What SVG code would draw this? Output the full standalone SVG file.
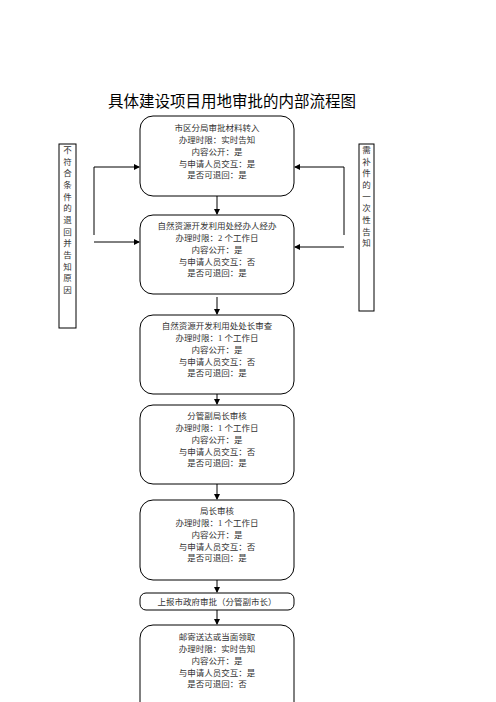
<svg xmlns="http://www.w3.org/2000/svg" width="496" height="702" viewBox="0 0 496 702">
<style>
.box{fill:#fff;stroke:#000;stroke-width:1}
.t{font-family:"Liberation Serif","Noto Sans CJK SC",serif;font-size:8.5px;fill:#333;text-anchor:middle}
.title{font-family:"Liberation Sans","Noto Sans CJK SC",sans-serif;font-size:15.5px;fill:#000;text-anchor:middle}
.c{stroke:#000;stroke-width:1;fill:none}
</style>
<defs>
<marker id="ah" markerWidth="6" markerHeight="6" refX="5" refY="3" orient="auto" markerUnits="userSpaceOnUse">
<path d="M0,0 L6,3 L0,6 z" fill="#000"/>
</marker>
</defs>
<rect width="496" height="702" fill="#fff"/>
<text class="title" x="232" y="107">具体建设项目用地审批的内部流程图</text>

<g id="n1"><rect class="box" x="140" y="116" width="154" height="80" rx="13"/>
<text class="t"><tspan x="217" y="131">市区分局审批材料转入</tspan><tspan x="217" y="143">办理时限：实时告知</tspan><tspan x="217" y="155">内容公开：是</tspan><tspan x="217" y="167">与申请人员交互：是</tspan><tspan x="217" y="178">是否可退回：是</tspan></text></g>

<g id="n2"><rect class="box" x="140" y="215" width="154" height="79" rx="13"/>
<text class="t"><tspan x="217" y="229">自然资源开发利用处经办人经办</tspan><tspan x="217" y="241">办理时限：2 个工作日</tspan><tspan x="217" y="253">内容公开：是</tspan><tspan x="217" y="265">与申请人员交互：否</tspan><tspan x="217" y="276">是否可退回：是</tspan></text></g>

<g id="n3"><rect class="box" x="140" y="315" width="154" height="79" rx="13"/>
<text class="t"><tspan x="217" y="329">自然资源开发利用处处长审查</tspan><tspan x="217" y="341">办理时限：1 个工作日</tspan><tspan x="217" y="353">内容公开：是</tspan><tspan x="217" y="365">与申请人员交互：否</tspan><tspan x="217" y="376">是否可退回：是</tspan></text></g>

<g id="n4"><rect class="box" x="140" y="405" width="154" height="79" rx="13"/>
<text class="t"><tspan x="217" y="419">分管副局长审核</tspan><tspan x="217" y="431">办理时限：1 个工作日</tspan><tspan x="217" y="443">内容公开：是</tspan><tspan x="217" y="455">与申请人员交互：否</tspan><tspan x="217" y="466">是否可退回：是</tspan></text></g>

<g id="n5"><rect class="box" x="140" y="500" width="154" height="80" rx="13"/>
<text class="t"><tspan x="217" y="514">局长审核</tspan><tspan x="217" y="526">办理时限：1 个工作日</tspan><tspan x="217" y="538">内容公开：是</tspan><tspan x="217" y="550">与申请人员交互：否</tspan><tspan x="217" y="561">是否可退回：是</tspan></text></g>

<g id="n6"><rect class="box" x="140" y="593" width="154" height="17" rx="6"/>
<text class="t" x="217" y="605">上报市政府审批（分管副市长）</text></g>

<g id="n7"><rect class="box" x="140" y="625" width="154" height="90" rx="13"/>
<text class="t"><tspan x="217" y="640">邮寄送达或当面领取</tspan><tspan x="217" y="652">办理时限：实时告知</tspan><tspan x="217" y="664">内容公开：是</tspan><tspan x="217" y="676">与申请人员交互：是</tspan><tspan x="217" y="687">是否可退回：否</tspan></text></g>

<g id="left"><rect class="box" x="59" y="144" width="17" height="184"/>
<text class="t"><tspan x="67.5" y="153">不</tspan><tspan x="67.5" y="165">符</tspan><tspan x="67.5" y="176">合</tspan><tspan x="67.5" y="188">条</tspan><tspan x="67.5" y="200">件</tspan><tspan x="67.5" y="211">的</tspan><tspan x="67.5" y="223">退</tspan><tspan x="67.5" y="235">回</tspan><tspan x="67.5" y="246">并</tspan><tspan x="67.5" y="258">告</tspan><tspan x="67.5" y="270">知</tspan><tspan x="67.5" y="281">原</tspan><tspan x="67.5" y="293">因</tspan></text></g>

<g id="right"><rect class="box" x="359" y="144" width="15" height="167"/>
<text class="t"><tspan x="366.5" y="153">需</tspan><tspan x="366.5" y="165">补</tspan><tspan x="366.5" y="176">件</tspan><tspan x="366.5" y="188">的</tspan><tspan x="366.5" y="200">一</tspan><tspan x="366.5" y="211">次</tspan><tspan x="366.5" y="223">性</tspan><tspan x="366.5" y="235">告</tspan><tspan x="366.5" y="246">知</tspan></text></g>

<g id="connectors">
<path class="c" d="M94,235 V167 H139" marker-end="url(#ah)"/>
<path class="c" d="M94,242 H139" marker-end="url(#ah)"/>
<path class="c" d="M344,235 V167 H295" marker-end="url(#ah)"/>
<path class="c" d="M344,247 H295" marker-end="url(#ah)"/>
<path class="c" d="M217,196 V214" marker-end="url(#ah)"/>
<path class="c" d="M217,297 V314" marker-end="url(#ah)"/>
<path class="c" d="M217,394 V404" marker-end="url(#ah)"/>
<path class="c" d="M217,484 V499" marker-end="url(#ah)"/>
<path class="c" d="M217,580 V592" marker-end="url(#ah)"/>
<path class="c" d="M217,610 V624" marker-end="url(#ah)"/>
</g>
</svg>
